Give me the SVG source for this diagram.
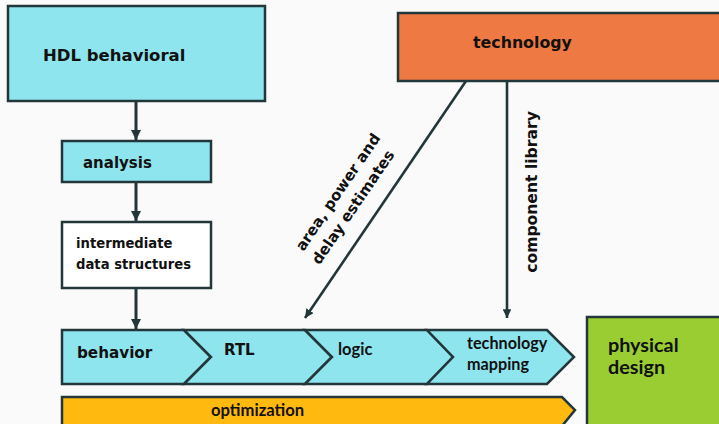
<svg xmlns="http://www.w3.org/2000/svg" width="719" height="424" viewBox="0 0 719 424">
<defs>
<marker id="ah" viewBox="0 0 10 10" refX="10" refY="5" markerWidth="3.4" markerHeight="3.4" orient="auto" markerUnits="strokeWidth">
<path d="M0,0 L10,5 L0,10 z" fill="#23373b"/>
</marker>
</defs>
<style>
.box{stroke:#23373b;stroke-width:2.5}
.cy{fill:#8ee5ee}
.cm{font-family:"DejaVu Sans",sans-serif;font-weight:bold;fill:#111}
.la{font-family:Lato,"Fira Sans",sans-serif;font-weight:bold;fill:#111}
.con{stroke:#23373b;fill:none;marker-end:url(#ah)}
</style>
<rect width="719" height="424" fill="#fafafa"/>
<g id="hdl">
<rect class="box cy" x="8" y="6" width="257" height="95"/>
<text class="cm" x="43" y="61" font-size="16.5">HDL behavioral</text>
</g>
<g id="analysis">
<rect class="box cy" x="62" y="141" width="149" height="41"/>
<text class="cm" x="83" y="168" font-size="15">analysis</text>
</g>
<g id="ids">
<rect class="box" fill="#ffffff" x="62" y="222" width="149" height="66"/>
<text class="cm" x="76" y="248" font-size="13.2">intermediate</text>
<text class="cm" x="76" y="269" font-size="13.2">data structures</text>
</g>
<g id="technology">
<rect class="box" fill="#ee7942" x="398" y="13" width="330" height="68"/>
<text class="cm" x="473" y="48" font-size="15.8">technology</text>
</g>
<g id="behavior">
<polygon class="box cy" points="62,330 184,330 211,357 184,384 62,384"/>
<text class="cm" x="77" y="358" font-size="15.2">behavior</text>
</g>
<g id="rtl">
<polygon class="box cy" points="184,330 305,330 332,357 305,384 184,384 211,357"/>
<text class="cm" x="224" y="355" font-size="15">RTL</text>
</g>
<g id="logic">
<polygon class="box cy" points="305,330 427,330 453,357 427,384 305,384 332,357"/>
<text class="la" x="338" y="355" font-size="16.5">logic</text>
</g>
<g id="techmap">
<polygon class="box cy" points="427,330 547,330 574,357 547,384 427,384 453,357"/>
<text class="la" x="467" y="349" font-size="16.2">technology</text>
<text class="la" x="467" y="370" font-size="16.2">mapping</text>
</g>
<g id="optimization">
<polygon class="box" fill="#ffb90f" points="62,397 562,397 575,410 562,426 62,426"/>
<text class="la" x="211" y="416" font-size="16.6">optimization</text>
</g>
<g id="physical">
<rect class="box" fill="#9acd32" x="587" y="317" width="140" height="120"/>
<text class="la" x="608" y="352" font-size="19.8">physical</text>
<text class="la" x="608" y="374" font-size="19.8">design</text>
</g>
<g id="connectors">
<line class="con" stroke-width="3" x1="136" y1="101" x2="136" y2="140"/>
<line class="con" stroke-width="3" x1="136" y1="182" x2="136" y2="221"/>
<line class="con" stroke-width="3" x1="136" y1="288" x2="136" y2="329"/>
<line class="con" stroke-width="2.6" x1="466" y1="81" x2="305" y2="318"/>
<line class="con" stroke-width="2.6" x1="507" y1="81" x2="507" y2="318"/>
<text class="cm" font-size="15.6" text-anchor="middle" transform="translate(537,192) rotate(-90)">component library</text>
<g transform="translate(346,200) rotate(-55.8)">
<text class="cm" font-size="15" text-anchor="middle" x="2" y="-6">area, power and</text>
<text class="cm" font-size="15" text-anchor="middle" x="-2" y="15">delay estimates</text>
</g>
</g>
</svg>
